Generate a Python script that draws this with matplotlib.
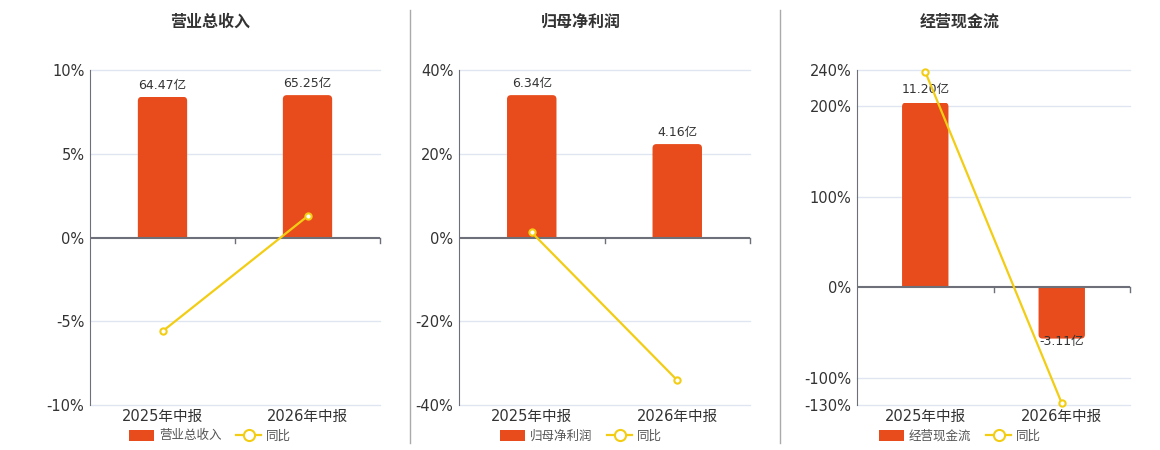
import matplotlib
matplotlib.use('Agg')
import matplotlib.pyplot as plt
from matplotlib.patches import Patch, FancyBboxPatch, Rectangle
from matplotlib.lines import Line2D

plt.rcParams['font.family'] = ['DejaVu Sans', 'Noto Sans CJK SC']

categories = ['2025年中报', '2026年中报']

titles = ['营业总收入', '归母净利润', '经营现金流']
bar_values = [[64.47, 65.25], [6.34, 4.16], [11.20, -3.11]]
yoy_values = [[-5.6, 1.27], [1.2, -34.1], [238, -128]]
y_limits = [(-10, 10), (-40, 40), (-130, 240)]
y_ticks = [[-10, -5, 0, 5, 10], [-40, -20, 0, 20, 40], [-130, -100, 0, 100, 200, 240]]

bar_color = '#e84c1c'
line_color = '#f2cd14'
axis_color = '#6e7079'
grid_color = '#e0e6f1'
text_color = '#333333'

fig = plt.figure(figsize=(11.6, 4.5), dpi=100)

# axes boxes in pixels: left, right
boxes = [(90, 380), (459, 750), (857, 1130)]
panel_centers = [210, 581, 960]
top_px, bottom_px = 70, 405
radius_px = 4

for i in range(3):
    l, r = boxes[i]
    rect = [l / 1160, (450 - bottom_px) / 450, (r - l) / 1160, (bottom_px - top_px) / 450]
    ax = fig.add_axes(rect)
    lo, hi = y_limits[i]
    ax.set_xlim(-0.5, 1.5)
    ax.set_ylim(lo, hi)
    ax.set_yticks(y_ticks[i])
    ax.set_yticklabels([f'{t}%' for t in y_ticks[i]])
    ax.set_xticks(range(len(categories)))
    ax.set_xticklabels(categories)
    ax.tick_params(axis='y', length=0, labelsize=10.5, colors=text_color, pad=4)
    ax.tick_params(axis='x', length=0, labelsize=10.5, colors=text_color, pad=3)
    for t in y_ticks[i]:
        if t != 0:
            ax.axhline(t, color=grid_color, lw=1, zorder=0, clip_on=False)
    for s in ['top', 'right', 'bottom']:
        ax.spines[s].set_visible(False)
    ax.spines['left'].set_color(axis_color)
    ax.spines['left'].set_zorder(3)

    # bars on a twin axis with zero aligned
    axb = ax.twinx()
    vals = bar_values[i]
    btop = max(abs(v) for v in vals) / 0.85
    blo = btop * lo / hi
    axb.set_ylim(blo, btop)
    axb.set_xlim(-0.5, 1.5)
    bars = axb.bar(range(len(categories)), vals, width=0.34, color=bar_color, zorder=2)

    # round the far corners of each bar
    pxx = (r - l) / 2
    pxy = (bottom_px - top_px) / (btop - blo)
    ext = radius_px / pxy
    for b in bars:
        x0, w, h = b.get_x(), b.get_width(), b.get_height()
        b.set_visible(False)
        if h >= 0:
            y0, hh = -ext, h + ext
        else:
            y0, hh = h, -h + ext
        fb = FancyBboxPatch((x0, y0), w, hh,
                            boxstyle=f'round,pad=0,rounding_size={radius_px / pxx}',
                            mutation_aspect=pxx / pxy, facecolor=bar_color,
                            edgecolor='none', zorder=2)
        axb.add_patch(fb)
        clip = Rectangle((x0 - 0.1, min(0, h)), w + 0.2, abs(h), transform=axb.transData)
        fb.set_clip_path(clip)

    for x, v in enumerate(vals):
        if v >= 0:
            axb.text(x, v + btop * 0.03, f'{v:.2f}亿', ha='center', va='bottom', fontsize=9, color=text_color)
        else:
            axb.text(x, v + btop * 0.015, f'{v:.2f}亿', ha='center', va='top', fontsize=9, color=text_color)
    axb.axis('off')

    # line on top
    axl = ax.twinx()
    axl.set_ylim(lo, hi)
    axl.set_xlim(-0.5, 1.5)
    axl.axhline(0, color=axis_color, lw=1.5, zorder=1)
    for xb in [0.5, 1.5]:
        axl.plot([xb, xb], [0, -(hi - lo) * 0.015], color=axis_color, lw=1, clip_on=False)
    axl.plot(range(len(categories)), yoy_values[i], color=line_color, lw=1.6,
             marker='o', markersize=4.5, markerfacecolor='white', markeredgecolor=line_color,
             markeredgewidth=1.5, clip_on=False, zorder=3)
    axl.axis('off')

    fig.text(panel_centers[i] / 1160, 1 - 22 / 450, titles[i], ha='center', va='center',
             fontsize=11.5, fontweight='bold', color=text_color)

    handles = [Patch(facecolor=bar_color, edgecolor='none'),
               Line2D([0], [0], color=line_color, lw=1.6, marker='o', markersize=8,
                      markerfacecolor='white', markeredgecolor=line_color, markeredgewidth=1.5)]
    fig.legend(handles, [titles[i], '同比'], loc='center', ncol=2, frameon=False,
               bbox_to_anchor=(panel_centers[i] / 1160, 14 / 450), fontsize=9,
               handlelength=2.0, handleheight=1.0, columnspacing=1.2, handletextpad=0.4,
               labelcolor='#555555')

# panel dividers
for xp in [410, 780]:
    fig.add_artist(Line2D([xp / 1160, xp / 1160], [1 - 10 / 450, 1 - 443 / 450],
                          color='#aaaaaa', lw=1))

fig.savefig('out.png', dpi=100, facecolor='white')
